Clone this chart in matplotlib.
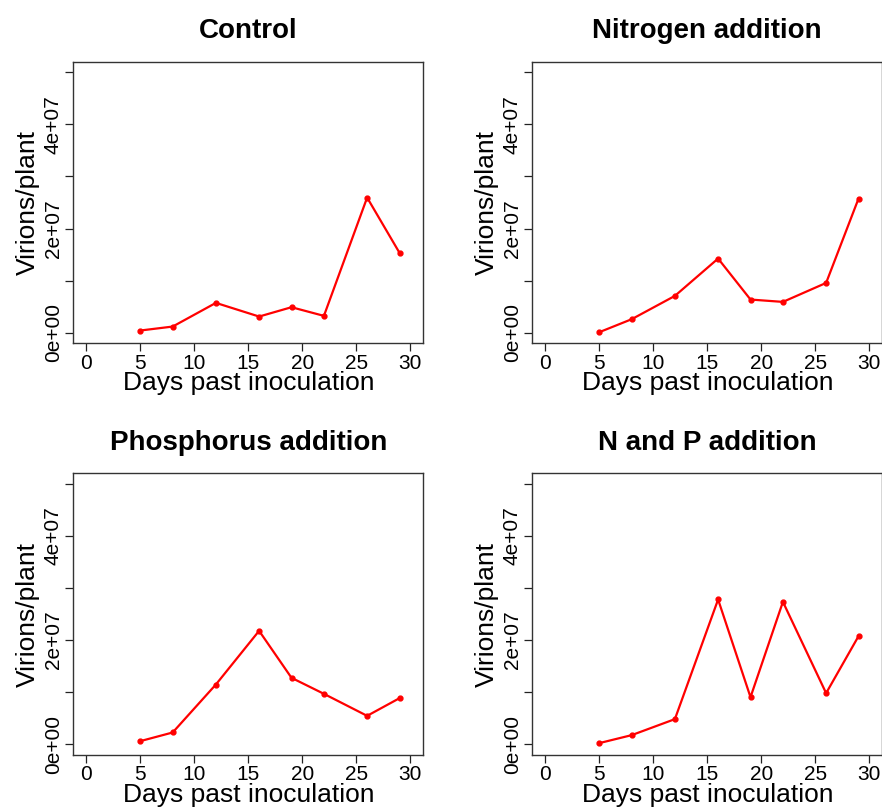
import matplotlib
matplotlib.use('Agg')
import matplotlib.pyplot as plt

plt.rcParams['font.family'] = ['Liberation Sans', 'DejaVu Sans']

# sampling days and virion counts per treatment
days = [5, 8, 12, 16, 19, 22, 26, 29]
control = [0.045e7, 0.121e7, 0.575e7, 0.313e7, 0.492e7, 0.326e7, 2.594e7, 1.534e7]
nitrogen = [0.013e7, 0.262e7, 0.709e7, 1.425e7, 0.639e7, 0.594e7, 0.958e7, 2.575e7]
phosphorus = [0.064e7, 0.23e7, 1.15e7, 2.179e7, 1.278e7, 0.971e7, 0.549e7, 0.888e7]
n_and_p = [0.026e7, 0.179e7, 0.486e7, 2.78e7, 0.907e7, 2.735e7, 0.984e7, 2.077e7]

titles = ['Control', 'Nitrogen addition', 'Phosphorus addition', 'N and P addition']
series = [control, nitrogen, phosphorus, n_and_p]

x_ticks = [0, 5, 10, 15, 20, 25, 30]
y_ticks = [0, 1e7, 2e7, 3e7, 4e7, 5e7]
y_labels = ['0e+00', '', '2e+07', '', '4e+07', '']

W, H = 882, 807
fig = plt.figure(figsize=(W / 100, H / 100), dpi=100)

# panel boxes in pixels: left, top
boxes = [(73.3, 61.7), (532.3, 61.7), (73.3, 473.3), (532.3, 473.3)]
bw, bh = 350, 281.6

for (left, top), title, vals in zip(boxes, titles, series):
    ax = fig.add_axes([left / W, 1 - (top + bh) / H, bw / W, bh / H])
    ax.plot(days, vals, color='red', lw=1.6, marker='o', ms=3.5)
    ax.set_xlim(-1.2, 31.2)
    ax.set_ylim(-0.2e7, 5.2e7)
    ax.set_xticks(x_ticks)
    ax.set_xticklabels([str(t) for t in x_ticks], fontsize=15)
    ax.set_yticks(y_ticks)
    ax.set_yticklabels(y_labels, fontsize=15, rotation=90, va='center')
    ax.tick_params(length=5.5, width=0.9, color='#222222', pad=2)
    for sp in ax.spines.values():
        sp.set_color('#333333')
        sp.set_linewidth(1.0)
    ax.set_xlabel('Days past inoculation', fontsize=19, labelpad=-1)
    ax.set_ylabel('Virions/plant', fontsize=19, labelpad=3)
    ax.set_title(title, fontsize=20, fontweight='bold', pad=17)

fig.savefig('out.png', dpi=100)
